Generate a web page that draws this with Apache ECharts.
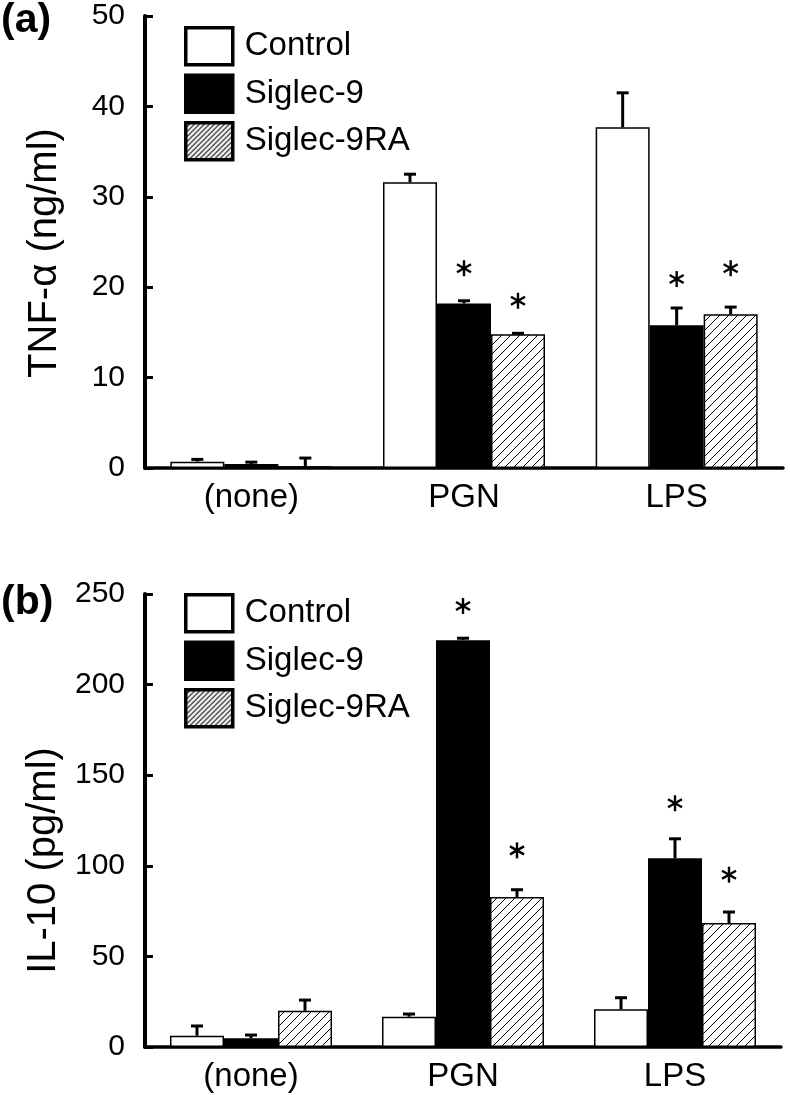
<!DOCTYPE html>
<html>
<head>
<meta charset="utf-8">
<script src="https://cdn.jsdelivr.net/npm/echarts@6/dist/echarts.min.js"></script>
<style>
  html, body { margin: 0; padding: 0; background: #fff; }
  #chart { width: 790px; height: 1095px; }
</style>
</head>
<body>
<div id="chart"></div>
<script>
// groups on the x axis
const categories = ['(none)', 'PGN', 'LPS'];
const seriesNames = ['Control', 'Siglec-9', 'Siglec-9RA'];

// (a) TNF-alpha, ng/ml
const tnfControl = [0.7, 31.6, 37.7];
const tnfControlErr = [0.25, 0.9, 3.8];
const tnfSiglec9 = [0.45, 18.2, 15.8];
const tnfSiglec9Err = [0.2, 0.3, 1.9];
const tnfSiglec9RA = [0.2, 14.8, 17.0];
const tnfSiglec9RAErr = [0.9, 0.1, 0.8];
// asterisks: [group, series, y]
const tnfStars = [[1, 1, 22.1], [1, 2, 18.5], [2, 1, 20.9], [2, 2, 22.1]];
const tnfTicks = { min: 0, max: 50, interval: 10 };

// (b) IL-10, pg/ml
const ilControl = [6.2, 16.7, 20.8];
const ilControlErr = [5.4, 1.5, 6.4];
const ilSiglec9 = [4.8, 224.5, 104.2];
const ilSiglec9Err = [1.8, 1.1, 10.7];
const ilSiglec9RA = [20.0, 82.8, 68.4];
const ilSiglec9RAErr = [5.9, 4.0, 6.1];
const ilStars = [[1, 1, 243.4], [1, 2, 108.5], [2, 1, 134.5], [2, 2, 95.1]];
const ilTicks = { min: 0, max: 250, interval: 50 };

const FONT = '"Liberation Sans", Arial, sans-serif';
const BAR_W = 54;

function hatch(step, lw) {
  const c = document.createElement('canvas');
  c.width = step; c.height = step;
  const ctx = c.getContext('2d');
  ctx.fillStyle = '#fff';
  ctx.fillRect(0, 0, step, step);
  ctx.strokeStyle = '#000';
  ctx.lineWidth = lw;
  ctx.beginPath();
  ctx.moveTo(0, step); ctx.lineTo(step, 0);
  ctx.moveTo(-1, 1); ctx.lineTo(1, -1);
  ctx.moveTo(step - 1, step + 1); ctx.lineTo(step + 1, step - 1);
  ctx.stroke();
  return { image: c, repeat: 'repeat' };
}
const barHatch = hatch(9, 1);
const legendHatch = hatch(5, 1.1);

const barStyles = [
  { color: '#fff', borderColor: '#000', borderWidth: 1.5 },
  { color: '#000', borderColor: '#000', borderWidth: 1.5 },
  { color: barHatch, borderColor: '#000', borderWidth: 1.5 }
];

function barSeries(idx, values) {
  return values.map((vals, k) => ({
    name: seriesNames[k],
    type: 'bar',
    xAxisIndex: idx,
    yAxisIndex: idx,
    barWidth: BAR_W,
    barGap: '0%',
    itemStyle: barStyles[k],
    emphasis: { disabled: true },
    data: vals
  }));
}

function errorSeries(idx, values, errs) {
  const data = [];
  values.forEach((vals, k) => vals.forEach((v, i) => data.push([i, k, v, errs[k][i]])));
  return {
    type: 'custom',
    xAxisIndex: idx,
    yAxisIndex: idx,
    z: 5,
    encode: { x: 0, y: 2 },
    data: data,
    renderItem: (params, api) => {
      const cat = api.value(0), k = api.value(1), v = api.value(2), e = api.value(3);
      const p0 = api.coord([cat, v]);
      const p1 = api.coord([cat, v + e]);
      const x = p0[0] + (k - 1) * BAR_W;
      const st = { stroke: '#000', lineWidth: 3 };
      return {
        type: 'group',
        children: [
          { type: 'line', shape: { x1: x, y1: p0[1], x2: x, y2: p1[1] }, style: st },
          { type: 'line', shape: { x1: x - 6, y1: p1[1], x2: x + 6, y2: p1[1] }, style: st }
        ]
      };
    }
  };
}

function starSeries(idx, stars) {
  return {
    type: 'custom',
    xAxisIndex: idx,
    yAxisIndex: idx,
    z: 6,
    encode: { x: 0, y: 2 },
    data: stars,
    renderItem: (params, api) => {
      const p = api.coord([api.value(0), api.value(2)]);
      const x = p[0] + (api.value(1) - 1) * BAR_W, y = p[1];
      const st = { stroke: '#000', lineWidth: 2.4 };
      return {
        type: 'group',
        children: [
          { type: 'line', shape: { x1: x, y1: y - 8, x2: x, y2: y + 8 }, style: st },
          { type: 'line', shape: { x1: x - 7, y1: y - 4, x2: x + 7, y2: y + 4 }, style: st },
          { type: 'line', shape: { x1: x - 7, y1: y + 4, x2: x + 7, y2: y - 4 }, style: st }
        ]
      };
    }
  };
}

function xAxis(idx) {
  return {
    type: 'category',
    gridIndex: idx,
    data: categories,
    axisLine: { lineStyle: { color: '#000', width: 3.5 } },
    axisTick: { inside: true, length: 6, lineStyle: { color: '#000', width: 4 } },
    axisLabel: { color: '#000', fontSize: 33, fontFamily: FONT, margin: 13 }
  };
}

// shift moves the rotated title down the page
function yAxis(idx, name, ticks, shift) {
  return {
    type: 'value',
    gridIndex: idx,
    min: ticks.min,
    max: ticks.max,
    interval: ticks.interval,
    name: name,
    nameLocation: 'middle',
    nameGap: 80,
    nameTextStyle: { color: '#000', fontSize: 40, fontFamily: FONT, padding: [0, shift * 2, 0, 0] },
    axisLine: { show: true, lineStyle: { color: '#000', width: 4 } },
    axisTick: { show: true, inside: true, length: 8, lineStyle: { color: '#000', width: 3 } },
    axisLabel: { color: '#000', fontSize: 30, fontFamily: FONT, margin: 20 },
    splitLine: { show: false }
  };
}

function legend(top) {
  return {
    orient: 'vertical',
    left: 184,
    top: top,
    padding: 0,
    itemWidth: 47,
    itemHeight: 37,
    itemGap: 7,
    selectedMode: false,
    textStyle: { color: '#000', fontSize: 33, fontFamily: FONT, padding: [0, 0, 0, 7] },
    data: [
      { name: 'Control', icon: 'rect', itemStyle: { color: '#fff', borderColor: '#000', borderWidth: 3.5 } },
      { name: 'Siglec-9', icon: 'rect', itemStyle: { color: '#000', borderColor: '#000', borderWidth: 3.5 } },
      { name: 'Siglec-9RA', icon: 'rect', itemStyle: { color: legendHatch, borderColor: '#000', borderWidth: 3.5 } }
    ]
  };
}

const tnfVals = [tnfControl, tnfSiglec9, tnfSiglec9RA];
const tnfErrs = [tnfControlErr, tnfSiglec9Err, tnfSiglec9RAErr];
const ilVals = [ilControl, ilSiglec9, ilSiglec9RA];
const ilErrs = [ilControlErr, ilSiglec9Err, ilSiglec9RAErr];

const chart = echarts.init(document.getElementById('chart'));
chart.setOption({
  animation: false,
  backgroundColor: '#fff',
  title: [
    { text: '(a)', left: 1, top: 0, padding: 0, textStyle: { color: '#000', fontSize: 41, fontWeight: 'bold', fontFamily: FONT } },
    { text: '(b)', left: 1, top: 582, padding: 0, textStyle: { color: '#000', fontSize: 41, fontWeight: 'bold', fontFamily: FONT } }
  ],
  legend: [legend(26), legend(593)],
  grid: [
    { left: 145, top: 16, width: 638, height: 452 },
    { left: 145, top: 594, width: 636, height: 453 }
  ],
  xAxis: [xAxis(0), xAxis(1)],
  yAxis: [yAxis(0, 'TNF-α (ng/ml)', tnfTicks, 11), yAxis(1, 'IL-10 (pg/ml)', ilTicks, 40)],
  series: [
    ...barSeries(0, tnfVals),
    errorSeries(0, tnfVals, tnfErrs),
    starSeries(0, tnfStars),
    ...barSeries(1, ilVals),
    errorSeries(1, ilVals, ilErrs),
    starSeries(1, ilStars)
  ]
});
</script>
</body>
</html>
